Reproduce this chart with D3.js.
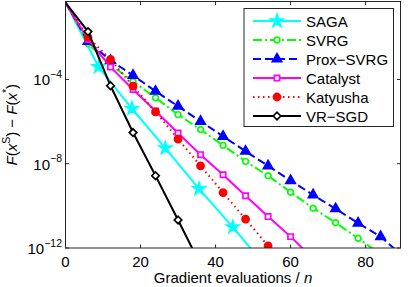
<!DOCTYPE html>
<html>
<head>
<meta charset="utf-8">
<script src="https://cdn.jsdelivr.net/npm/d3@7"></script>
<style>
  body { margin: 0; background: #fff; }
  text { font-family: "Liberation Sans", Arial, sans-serif; fill: #000; }
</style>
</head>
<body>
<div id="chart"></div>
<script>
// values are log10 of F(x^s) - F(x*)
var epochs = [0, 6, 12, 18, 24, 30, 36, 42, 48, 54, 60, 66, 72, 78, 84, 90];
var sagaEpochs = [0, 8.8, 17.7, 26.6, 35.6, 44.6, 53.5];
var sagaLog = [-0.35, -3.4, -5.38, -7.26, -9.19, -11.01, -12.9];
var svrgLog = [-0.35, -2.3, -3.3, -4.1, -4.87, -5.67, -6.38, -7.13, -7.89, -8.57, -9.35, -10.11, -10.8, -11.54, -12.3];
var proxLog = [-0.35, -2.2, -3.1, -3.81, -4.56, -5.27, -5.99, -6.7, -7.41, -8.1, -8.8, -9.48, -10.14, -10.82, -11.46, -12.4];
var catalystLog = [-0.35, -2.1, -3.41, -4.48, -5.5, -6.54, -7.57, -8.52, -9.52, -10.51, -11.46, -12.5];
var katyushaLog = [-0.35, -2.0, -3.05, -4.32, -5.54, -6.83, -8.1, -9.37, -10.63, -11.9, -13.2];
var vrsgdLog = [-0.35, -1.73, -4.3, -6.52, -8.57, -10.67, -12.8];

var xTicks = [0, 20, 40, 60, 80];
var yTickExps = [-4, -8, -12];

var margin = {left: 65.5, right: 8.5, top: 1.5, bottom: 39};
var width = 409, height = 287;

var svg = d3.select("#chart").append("svg")
    .attr("width", width)
    .attr("height", height);

var x = d3.scaleLinear().domain([0, 89.3]).range([margin.left, width - margin.right]);
var y = d3.scaleLog().domain([1e-12, 0.5]).range([height - margin.bottom, margin.top]);

// matlab style diamond (square turned 45deg)
var diamond = {
    draw: function (ctx, size) {
        var r = Math.sqrt(size / 2);
        ctx.moveTo(0, -r);
        ctx.lineTo(r, 0);
        ctx.lineTo(0, r);
        ctx.lineTo(-r, 0);
        ctx.closePath();
    }
};

function pairs(xs, logs) {
    return logs.map(function (v, i) { return {x: xs[i], v: Math.pow(10, v)}; });
}

var series = [
    {name: "SAGA", data: pairs(sagaEpochs, sagaLog), color: "#00ffff", dash: null,
     symbol: d3.symbolStar, size: 46, fill: "#00ffff"},
    {name: "SVRG", data: pairs(epochs, svrgLog), color: "#00ff00", dash: "9,3,2,3",
     symbol: d3.symbolCircle, size: 26, fill: "#fff"},
    {name: "Prox\u2212SVRG", data: pairs(epochs, proxLog), color: "#0000ff", dash: "8,4",
     symbol: d3.symbolTriangle, size: 38, fill: "#0000ff"},
    {name: "Catalyst", data: pairs(epochs, catalystLog), color: "#ff00ff", dash: null,
     symbol: d3.symbolSquare, size: 28, fill: "#fff"},
    {name: "Katyusha", data: pairs(epochs, katyushaLog), color: "#ff0000", dash: "1.5,3.5",
     symbol: d3.symbolCircle, size: 40, fill: "#ff0000"},
    {name: "VR\u2212SGD", data: pairs(epochs, vrsgdLog), color: "#000000", dash: null,
     symbol: diamond, size: 28, fill: "#fff"}
];

svg.append("clipPath").attr("id", "plotclip")
    .append("rect")
    .attr("x", margin.left).attr("y", margin.top)
    .attr("width", width - margin.left - margin.right)
    .attr("height", height - margin.top - margin.bottom);

var plot = svg.append("g").attr("clip-path", "url(#plotclip)");

var line = d3.line()
    .x(function (d) { return x(d.x); })
    .y(function (d) { return y(d.v); });

// later series drawn on top, like matlab
series.forEach(function (s) {
    plot.append("path")
        .datum(s.data)
        .attr("d", line)
        .attr("fill", "none")
        .attr("stroke", s.color)
        .attr("stroke-width", 2)
        .attr("stroke-dasharray", s.dash);

    plot.selectAll(null)
        .data(s.data.filter(function (d) { return d.x > 0 && d.v >= 1e-12; }))
        .enter()
        .append("path")
        .attr("transform", function (d) { return "translate(" + x(d.x) + "," + y(d.v) + ")"; })
        .attr("d", d3.symbol().type(s.symbol).size(s.size))
        .attr("fill", s.fill)
        .attr("stroke", s.color)
        .attr("stroke-width", 1.7);
});

// frame and ticks (box on, ticks inside)
var x0 = margin.left, x1 = width - margin.right;
var y0 = height - margin.bottom, y1 = margin.top;
var axes = svg.append("g").attr("stroke", "#262626").attr("stroke-width", 1);

axes.append("rect")
    .attr("x", x0).attr("y", y1)
    .attr("width", x1 - x0).attr("height", y0 - y1)
    .attr("fill", "none");

xTicks.forEach(function (t) {
    axes.append("line").attr("x1", x(t)).attr("x2", x(t)).attr("y1", y0).attr("y2", y0 - 3.5);
    axes.append("line").attr("x1", x(t)).attr("x2", x(t)).attr("y1", y1).attr("y2", y1 + 3.5);
});
yTickExps.forEach(function (e) {
    var yy = y(Math.pow(10, e));
    axes.append("line").attr("x1", x0).attr("x2", x0 + 3.5).attr("y1", yy).attr("y2", yy);
    axes.append("line").attr("x1", x1).attr("x2", x1 - 3.5).attr("y1", yy).attr("y2", yy);
});

svg.selectAll(".xlab")
    .data(xTicks)
    .enter()
    .append("text")
    .attr("x", function (d) { return x(d); })
    .attr("y", y0 + 18.5)
    .attr("text-anchor", "middle")
    .style("font-size", "15px")
    .text(function (d) { return d; });

yTickExps.forEach(function (e) {
    var t = svg.append("text")
        .attr("x", x0 - 3.5)
        .attr("y", y(Math.pow(10, e)) + 6)
        .attr("text-anchor", "end")
        .style("font-size", "15px");
    t.append("tspan").text("10");
    t.append("tspan").attr("dy", -7.5).style("font-size", "10.5px").text("\u2212" + Math.abs(e));
});

// axis titles
var xt = svg.append("text")
    .attr("x", (x0 + x1) / 2)
    .attr("y", 283)
    .attr("text-anchor", "middle")
    .style("font-size", "15px");
xt.append("tspan").text("Gradient evaluations / ");
xt.append("tspan").style("font-style", "italic").text("n");

var yt = svg.append("text")
    .attr("transform", "translate(17," + (y0 + y1) / 2 + ") rotate(-90)")
    .attr("text-anchor", "middle")
    .style("font-size", "15px");
yt.append("tspan").style("font-style", "italic").text("F");
yt.append("tspan").text("(");
yt.append("tspan").style("font-style", "italic").text("x");
yt.append("tspan").attr("dy", -7).style("font-size", "10.5px").text("S");
yt.append("tspan").attr("dy", 7).text(") \u2212 ");
yt.append("tspan").style("font-style", "italic").text("F");
yt.append("tspan").text("(");
yt.append("tspan").style("font-style", "italic").text("x");
yt.append("tspan").attr("dy", -7).style("font-size", "10.5px").text("*");
yt.append("tspan").attr("dy", 7).text(")");

// legend
var legend = svg.append("g");
legend.append("rect")
    .attr("x", 244).attr("y", 8.5)
    .attr("width", 149.5).attr("height", 118)
    .attr("fill", "#fff")
    .attr("stroke", "#262626");

var entries = legend.selectAll(".entry")
    .data(series)
    .enter()
    .append("g")
    .attr("transform", function (d, i) { return "translate(0," + (21 + i * 19) + ")"; });

entries.append("line")
    .attr("x1", 253).attr("x2", 301)
    .attr("y1", 0).attr("y2", 0)
    .attr("stroke", function (d) { return d.color; })
    .attr("stroke-width", 2)
    .attr("stroke-dasharray", function (d) { return d.dash; });

entries.append("path")
    .attr("transform", "translate(277,0)")
    .attr("d", function (d) { return d3.symbol().type(d.symbol).size(d.size)(); })
    .attr("fill", function (d) { return d.fill; })
    .attr("stroke", function (d) { return d.color; })
    .attr("stroke-width", 1.7);

entries.append("text")
    .attr("x", 306)
    .attr("y", 5.5)
    .style("font-size", "15px")
    .text(function (d) { return d.name; });
</script>
</body>
</html>
